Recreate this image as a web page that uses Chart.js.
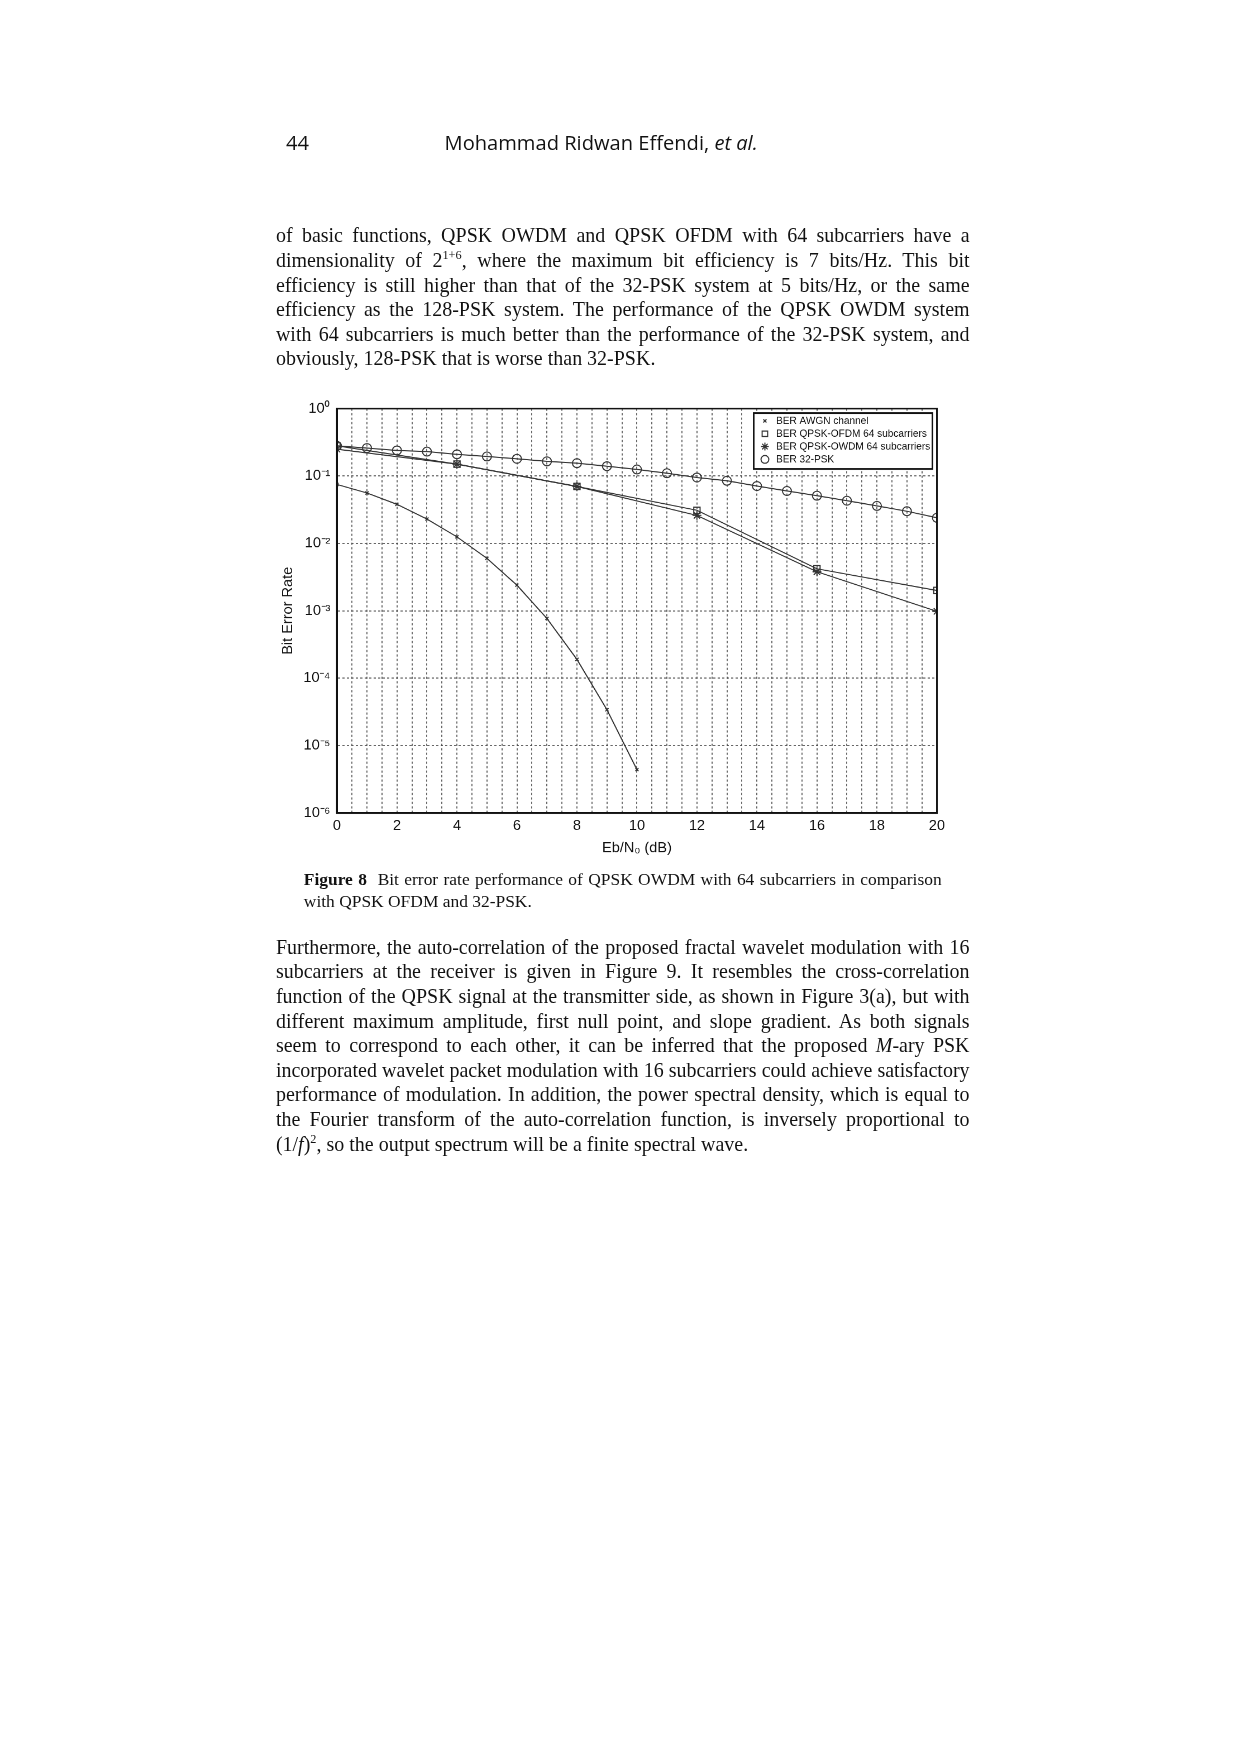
<!DOCTYPE html>
<html>
<head>
<meta charset="utf-8">
<script src="https://cdn.jsdelivr.net/npm/chart.js@4.4.0/dist/chart.umd.min.js"></script>
<style>
  body { margin: 0; background: #fff; width: 1240px; height: 1754px; overflow: hidden; font-family: "Liberation Serif", serif; color: #111; }
  #page { position: absolute; left: 0; top: 0; width: 1110px; height: 1570px; transform: scale(1.117); transform-origin: 0 0; }
  .hdr { position: absolute; top: 115px; font-family: "Open Sans", sans-serif; font-size: 18px; }
  .para { position: absolute; left: 247px; width: 621px; font-size: 17.9px; line-height: 22px; text-align: justify; }
  sup { line-height: 0; font-size: 11px; }
  .cap { position: absolute; left: 272px; width: 571px; top: 777px; font-size: 15.6px; line-height: 20px; text-align: justify; }
  #wrap { position: absolute; left: 250px; top: 352px; width: 600px; height: 415px; }
</style>
</head>
<body>
<div id="page">
<div class="hdr" style="left:256px">44</div>
<div class="hdr" style="left:398px">Mohammad Ridwan Effendi, <i>et al.</i></div>
<div class="para" style="top:200px">of basic functions, QPSK OWDM and QPSK OFDM with 64 subcarriers have a dimensionality of 2<sup>1+6</sup>, where the maximum bit efficiency is 7 bits/Hz. This bit efficiency is still higher than that of the 32-PSK system at 5 bits/Hz, or the same efficiency as the 128-PSK system. The performance of the QPSK OWDM system with 64 subcarriers is much better than the performance of the 32-PSK system, and obviously, 128-PSK that is worse than 32-PSK.</div>
<div id="wrap"><canvas id="c"></canvas></div>
<div class="cap"><b>Figure 8</b>&nbsp; Bit error rate performance of QPSK OWDM with 64 subcarriers in comparison with QPSK OFDM and 32-PSK.</div>
<div class="para" style="top:837px">Furthermore, the auto-correlation of the proposed fractal wavelet modulation with 16 subcarriers at the receiver is given in Figure 9. It resembles the cross-correlation function of the QPSK signal at the transmitter side, as shown in Figure 3(a), but with different maximum amplitude, first null point, and slope gradient. As both signals seem to correspond to each other, it can be inferred that the proposed <i>M</i>-ary PSK incorporated wavelet packet modulation with 16 subcarriers could achieve satisfactory performance of modulation. In addition, the power spectral density, which is equal to the Fourier transform of the auto-correlation function, is inversely proportional to (1/<i>f</i>)<sup>2</sup>, so the output spectrum will be a finite spectral wave.</div>
</div>
<script>
const awgnX = [0, 1, 2, 3, 4, 5, 6, 7, 8, 9, 10];
const awgnY = [0.075, 0.056, 0.038, 0.023, 0.0125, 0.006, 0.0024, 0.00077, 0.00019, 0.000034, 0.0000044];
const ofdmX = [0, 4, 8, 12, 16, 20];
const ofdmY = [0.28, 0.15, 0.07, 0.031, 0.0042, 0.002];
const owdmX = [0, 4, 8, 12, 16, 20];
const owdmY = [0.25, 0.15, 0.07, 0.026, 0.0038, 0.00098];
const pskX = [0, 1, 2, 3, 4, 5, 6, 7, 8, 9, 10, 11, 12, 13, 14, 15, 16, 17, 18, 19, 20];
const pskY = [0.28, 0.26, 0.24, 0.23, 0.21, 0.195, 0.18, 0.165, 0.155, 0.14, 0.125, 0.11, 0.095, 0.085, 0.071, 0.06, 0.051, 0.043, 0.036, 0.03, 0.024];
const seriesNames = ["BER AWGN channel", "BER QPSK-OFDM 64 subcarriers", "BER QPSK-OWDM 64 subcarriers", "BER 32-PSK"];
const yTickLabels = ["10⁻⁶", "10⁻⁵", "10⁻⁴", "10⁻³", "10⁻²", "10⁻¹", "10⁰"];

const pts = (xs, ys) => xs.map((x, i) => ({ x: x, y: ys[i] }));
const styles = ["crossRot", "rect", "star", "circle"];
const sizes = [2, 4, 4, 4];

function ds(i, xs, ys) {
  return {
    label: seriesNames[i], data: pts(xs, ys),
    borderColor: "#333", borderWidth: 1, backgroundColor: "rgba(255,255,255,0)",
    pointStyle: styles[i], pointRadius: sizes[i], pointBorderColor: "#333",
    pointBackgroundColor: "rgba(255,255,255,0)", pointBorderWidth: 1, tension: 0
  };
}

// legend box drawn inside the plot area, top right
const boxLegend = {
  id: "boxLegend",
  afterDraw(chart) {
    const ctx = chart.ctx, a = chart.chartArea;
    const w = 160, h = 50, x0 = a.right - w - 4, y0 = a.top + 4;
    ctx.save();
    ctx.setLineDash([]);
    ctx.fillStyle = "#fff";
    ctx.fillRect(x0, y0, w, h);
    ctx.strokeStyle = "#111"; ctx.lineWidth = 1.5;
    ctx.strokeRect(x0, y0, w, h);
    ctx.font = "9px 'Liberation Sans'";
    ctx.textBaseline = "middle";
    seriesNames.forEach((n, i) => {
      const y = y0 + 7 + i * 11.5;
      ctx.strokeStyle = "#333"; ctx.lineWidth = 1;
      ctx.fillStyle = "#fff";
      Chart.helpers.drawPoint(ctx, { pointStyle: styles[i], radius: i === 0 ? 2 : 3.5, borderWidth: 1 }, x0 + 10, y);
      ctx.fillStyle = "#111";
      ctx.fillText(n, x0 + 20, y);
    });
    ctx.restore();
  }
};

new Chart(document.getElementById("c"), {
  type: "line",
  data: { datasets: [ds(0, awgnX, awgnY), ds(1, ofdmX, ofdmY), ds(2, owdmX, owdmY), ds(3, pskX, pskY)] },
  options: {
    responsive: true, maintainAspectRatio: false, animation: false, devicePixelRatio: 2,
    layout: { padding: { right: 8, top: 8 } },
    plugins: { legend: { display: false }, tooltip: { enabled: false } },
    scales: {
      x: {
        type: "linear", min: 0, max: 20,
        border: { color: "#111", width: 1.5, dash: [2, 2] },
        grid: { color: "#444", lineWidth: 0.8, drawTicks: false },
        ticks: {
          stepSize: 0.5, autoSkip: false, maxRotation: 0, color: "#111", padding: 4,
          font: { family: "Liberation Sans", size: 13 },
          callback: (v) => (Number.isInteger(v) && v % 2 === 0) ? String(v) : ""
        },
        title: { display: true, text: "Eb/N₀ (dB)", color: "#111", font: { family: "Liberation Sans", size: 13 }, padding: 0 }
      },
      y: {
        type: "logarithmic", min: 1e-6, max: 1,
        border: { color: "#111", width: 1.5, dash: [2, 2] },
        afterBuildTicks: (s) => { s.ticks = yTickLabels.map((t, i) => ({ value: Math.pow(10, i - 6) })); },
        grid: { color: "#444", lineWidth: 0.8, drawTicks: false },
        ticks: {
          color: "#111", padding: 6, font: { family: "Liberation Sans", size: 13 },
          callback: (v) => yTickLabels[Math.round(Math.log10(v)) + 6]
        },
        title: { display: true, text: "Bit Error Rate", color: "#111", font: { family: "Liberation Sans", size: 13 }, padding: 0 }
      }
    }
  },
  plugins: [boxLegend, {
    id: "solidFrame",
    afterDraw(chart) {
      const ctx = chart.ctx, a = chart.chartArea;
      ctx.save();
      ctx.strokeStyle = "#111"; ctx.lineWidth = 1.5;
      ctx.strokeRect(a.left, a.top, a.right - a.left, a.bottom - a.top);
      ctx.restore();
    }
  }]
});
</script>
</body>
</html>
